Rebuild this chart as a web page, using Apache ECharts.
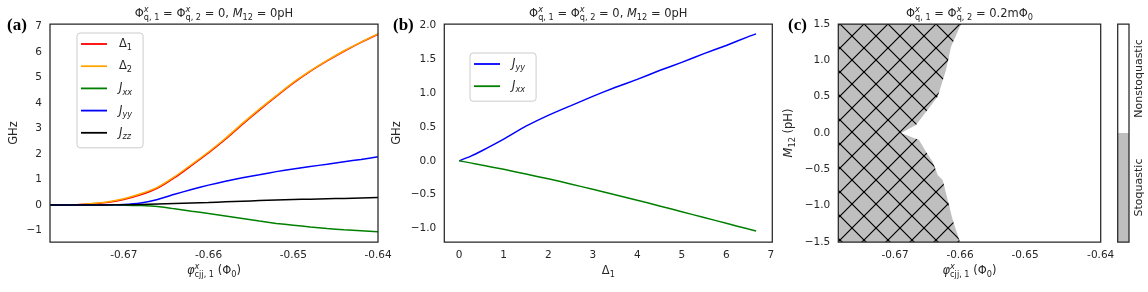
<!DOCTYPE html>
<html><head><meta charset="utf-8">
<script src="https://cdn.jsdelivr.net/npm/echarts@6/dist/echarts.min.js"></script>
<style>html,body{margin:0;padding:0;background:#fff}#c{width:1148px;height:292px}</style>
</head><body><div id="c"></div>
<script>
// ---------- Panel (a) data ----------
const phiA = [-0.6787,-0.676,-0.674,-0.672,-0.670,-0.668,-0.666,-0.664,-0.662,-0.660,-0.658,-0.656,-0.654,-0.652,-0.650,-0.648,-0.646,-0.644,-0.642,-0.640];
const delta1A = [0.00,0.005,0.04,0.10,0.22,0.40,0.66,1.07,1.55,2.04,2.58,3.16,3.72,4.26,4.78,5.24,5.65,6.03,6.38,6.70];
const delta2A = [0.00,0.007,0.05,0.12,0.25,0.44,0.70,1.11,1.59,2.08,2.62,3.20,3.76,4.29,4.81,5.26,5.67,6.05,6.39,6.71];
const jxxA    = [0,0,0,0,-0.005,-0.02,-0.06,-0.15,-0.24,-0.33,-0.43,-0.53,-0.63,-0.72,-0.79,-0.86,-0.92,-0.97,-1.01,-1.05];
const jyyA    = [0,0,0.003,0.008,0.02,0.08,0.22,0.42,0.61,0.78,0.93,1.07,1.19,1.31,1.41,1.51,1.60,1.70,1.79,1.89];
const jzzA    = [0,0,0.001,0.003,0.01,0.02,0.04,0.06,0.08,0.10,0.125,0.15,0.175,0.20,0.215,0.23,0.245,0.26,0.28,0.30];
const xTicksA = [-0.67,-0.66,-0.65,-0.64];
const yTicksA = [-1,0,1,2,3,4,5,6,7];

// ---------- Panel (b) data ----------
const delta1B = [0,0.25,0.5,1,1.5,2,2.5,3,3.5,4,4.5,5,5.5,6,6.5,6.67];
const jyyB    = [0,0.065,0.145,0.32,0.51,0.67,0.81,0.95,1.08,1.20,1.33,1.45,1.58,1.70,1.83,1.87];
const jxxB    = [0,-0.03,-0.062,-0.125,-0.195,-0.265,-0.34,-0.42,-0.50,-0.58,-0.665,-0.75,-0.835,-0.92,-1.005,-1.033];
const xTicksB = [0,1,2,3,4,5,6,7];
const yTicksB = [-1.0,-0.5,0.0,0.5,1.0,1.5,2.0];

// ---------- Panel (c) data: stoquastic region boundary ----------
const boundaryM   = [1.5,1.188,0.867,0.5,0.344,0.110,0.0,-0.096,-0.258,-0.395,-0.578,-0.647,-0.922,-1.197,-1.472,-1.5];
const boundaryPhi = [-0.65984,-0.66138,-0.66215,-0.66343,-0.66477,-0.66677,-0.66907,-0.66630,-0.66523,-0.66420,-0.66343,-0.66266,-0.66189,-0.66112,-0.66010,-0.66000];
const xTicksC = [-0.67,-0.66,-0.65,-0.64];
const yTicksC = [-1.5,-1.0,-0.5,0.0,0.5,1.0,1.5];
const colorbarCats = ['Stoquastic','Nonstoquastic'];

// ---------- helpers ----------
const INK = '#262626';
const FAM = '"DejaVu Sans"';
const mctx = document.createElement('canvas').getContext('2d');
function fstr(sz, it){ return (it?'italic ':'') + sz + 'px ' + FAM; }
function textGroup(pieces, cx, cy, rot){
  let x = 0, pend = 0; const kids = [];
  pieces.forEach(p => {
    const [t, sz, dy, it, stack] = p;
    const f = fstr(sz, it); mctx.font = f;
    const w = mctx.measureText(t).width;
    kids.push({type:'text', x:x, y:dy, silent:true,
      style:{text:t, font:f, fill:INK, align:'left', verticalAlign:'middle', textAlign:'left', textVerticalAlign:'middle'}});
    if (stack) pend = Math.max(pend, w); else { x += Math.max(w, pend); pend = 0; }
  });
  kids.forEach(k => k.x -= x/2);
  return {type:'group', x:cx, y:cy, rotation:rot||0, children:kids, silent:true};
}
const M = 11.5, S = 8.2, SUP = -4, SUB = 4;
function titleAB(cx){ return textGroup([
  ['\u03A6',M,0],['x',S,SUP,true,true],['q, 1',S,SUB],
  [' = \u03A6',M,0],['x',S,SUP,true,true],['q, 2',S,SUB],
  [' = 0, ',M,0],['M',M,0,true],['12',S,SUB],[' = 0pH',M,0]], cx, 14); }
function titleC(cx){ return textGroup([
  ['\u03A6',M,0],['x',S,SUP,true,true],['q, 1',S,SUB],
  [' = \u03A6',M,0],['x',S,SUP,true,true],['q, 2',S,SUB],
  [' = 0.2m\u03A6',M,0],['0',S,SUB]], cx, 14); }
function phiLabel(cx){ return textGroup([
  ['\u03C6',M,0,true],['x',S,SUP,true,true],['cjj, 1',S,SUB],[' (\u03A6',M,0],['0',S,SUB],[')',M,0]], cx, 271); }
function panelLabel(t, x){ return {type:'text', x:x, y:26, silent:true,
  style:{text:t, font:'bold 17px "Liberation Serif"', fill:'#000', align:'left', verticalAlign:'middle', textAlign:'left', textVerticalAlign:'middle'}}; }
const minus = v => (v < 0 ? '\u2212' : '') + Math.abs(v);
const minus1 = v => (v < 0 ? '\u2212' : '') + Math.abs(v).toFixed(1);

// hatch pattern tile (crosshatch, period ~24 px, dots at crossings)
const TS = 24;
const tile = document.createElement('canvas'); tile.width = TS; tile.height = TS;
(function(){ const c = tile.getContext('2d'); c.fillStyle = '#bfbfbf'; c.fillRect(0,0,TS,TS);
  c.strokeStyle = '#000'; c.lineWidth = 1.2; c.beginPath();
  c.moveTo(-2,-2); c.lineTo(TS+2,TS+2); c.moveTo(-2,TS+2); c.lineTo(TS+2,-2); c.stroke();
  c.fillStyle = '#000';
  [[TS/2,TS/2],[0,0],[TS,0],[0,TS],[TS,TS]].forEach(p => { c.beginPath(); c.arc(p[0],p[1],1.1,0,Math.PI*2); c.fill(); });
})();
const hatch = {image: tile, repeat: 'repeat'};

const cPhiMin = -0.67872, cPhiMax = -0.63835;

const LEG = {
  '\u03941':'{m|\u0394}{s|1}', '\u03942':'{m|\u0394}{s|2}',
  'Jxx':'{mi|J}{si|xx}', 'Jyy':'{mi|J}{si|yy}', 'Jzz':'{mi|J}{si|zz}'
};
const legRich = {
  m:{fontFamily:FAM, fontSize:11.5, color:INK, lineHeight:16, verticalAlign:'middle'},
  mi:{fontFamily:FAM, fontSize:11.5, fontStyle:'italic', color:INK, lineHeight:16, verticalAlign:'middle'},
  s:{fontFamily:FAM, fontSize:8.2, color:INK, lineHeight:10, verticalAlign:'bottom'},
  si:{fontFamily:FAM, fontSize:8.2, fontStyle:'italic', color:INK, lineHeight:10, verticalAlign:'bottom'}
};
function legendAt(names, left, top){
  return {data:names, left:left, top:top, orient:'vertical', itemGap:8.2, icon:'rect',
    itemWidth:26, itemHeight:1.8, padding:[5,11,7,4], backgroundColor:'#fff',
    borderColor:'#cccccc', borderWidth:1, borderRadius:3, selectedMode:false,
    formatter: n => LEG[n], textStyle:{rich:legRich, padding:[0,0,0,7]}};
}

const axLabel = {color:INK, fontFamily:FAM, fontSize:10.5};
function grid(left, width){ return {left:left, top:24, width:width, height:218, show:true,
  borderColor:INK, borderWidth:1.25, backgroundColor:'transparent', z:5}; }
function valAxis(gi, min, max, ticks, fmt, extra){
  return Object.assign({type:'value', gridIndex:gi, min:min, max:max, axisLine:{show:false}, axisTick:{show:false},
    splitLine:{show:false}, axisLabel:Object.assign({}, axLabel, {customValues:ticks, formatter:fmt, margin:8, hideOverlap:false})}, extra||{});
}
const pairs = (xs, ys) => xs.map((x,i)=>[x, ys[i]]);
function line(name, xi, xs, ys, color){
  return {type:'line', name:name, xAxisIndex:xi, yAxisIndex:xi, data:pairs(xs,ys), showSymbol:false,
    smooth:0.2, lineStyle:{color:color, width:1.5}, itemStyle:{color:color}, silent:true};
}

const chart = echarts.init(document.getElementById('c'), null, {renderer:'canvas'});
chart.setOption({
  animation:false,
  grid:[grid(50,328), grid(444.3,328), grid(838.3,262.4), grid(1117.7,11.3)],
  xAxis:[
    valAxis(0, -0.6787, -0.64, xTicksA, v => v.toFixed(2)),
    valAxis(1, -0.335, 7.035, xTicksB, v => String(v)),
    valAxis(2, cPhiMin, cPhiMax, xTicksC.slice(0,3).concat([cPhiMax]), v => v.toFixed(2)),
    {type:'category', gridIndex:3, data:['cb'], show:false}
  ],
  yAxis:[
    valAxis(0, -1.45, 7.1, yTicksA, minus),
    valAxis(1, -1.196, 2.016, yTicksB, minus1),
    valAxis(2, -1.5, 1.5, yTicksC, minus1),
    {type:'value', gridIndex:3, min:0, max:2, position:'right', axisLine:{show:false}, axisTick:{show:false}, splitLine:{show:false},
     axisLabel:Object.assign({}, axLabel, {fontSize:11, customValues:[0.5,1.5], rotate:90, margin:5,
       formatter: v => v < 1 ? colorbarCats[0] : colorbarCats[1]})}
  ],
  legend:[legendAt(['\u03941','\u03942','Jxx','Jyy','Jzz'], 77, 33), legendAt(['Jyy','Jxx'], 470, 53)],
  series:[
    line('\u03941', 0, phiA, delta1A, '#ff0000'),
    line('\u03942', 0, phiA, delta2A, '#ffa500'),
    line('Jxx', 0, phiA, jxxA, '#008000'),
    line('Jyy', 0, phiA, jyyA, '#0000ff'),
    line('Jzz', 0, phiA, jzzA, '#000000'),
    line('Jyy', 1, delta1B, jyyB, '#0000ff'),
    line('Jxx', 1, delta1B, jxxB, '#008000'),
    {type:'custom', name:'region', xAxisIndex:2, yAxisIndex:2, silent:true, data:[[cPhiMin, 0]],
     renderItem:function(params, api){
       const pts = [api.coord([cPhiMin, boundaryM[0]])];
       boundaryPhi.forEach((p,i)=>pts.push(api.coord([p, boundaryM[i]])));
       pts.push(api.coord([cPhiMin, boundaryM[boundaryM.length-1]]));
       return {type:'polygon', shape:{points:pts}, style:{fill:hatch, stroke:null}};
     }},
    {type:'bar', name:colorbarCats[0], xAxisIndex:3, yAxisIndex:3, stack:'cb', data:[1], barWidth:'100%', silent:true, itemStyle:{color:'#bfbfbf'}},
    {type:'bar', name:colorbarCats[1], xAxisIndex:3, yAxisIndex:3, stack:'cb', data:[1], barWidth:'100%', silent:true, itemStyle:{color:'#ffffff'}}
  ],
  graphic:[
    panelLabel('(a)', 7), panelLabel('(b)', 393), panelLabel('(c)', 788),
    titleAB(214), titleAB(608.3), titleC(969.5),
    phiLabel(214), textGroup([['\u0394',M,0],['1',S,SUB]], 608.3, 271), phiLabel(969.5),
    textGroup([['GHz',M,0]], 14, 133, Math.PI/2),
    textGroup([['GHz',M,0]], 397, 133, Math.PI/2),
    textGroup([['M',M,0,true],['12',S,SUB],[' (pH)',M,0]], 789, 133, Math.PI/2)
  ]
});
</script></body></html>
